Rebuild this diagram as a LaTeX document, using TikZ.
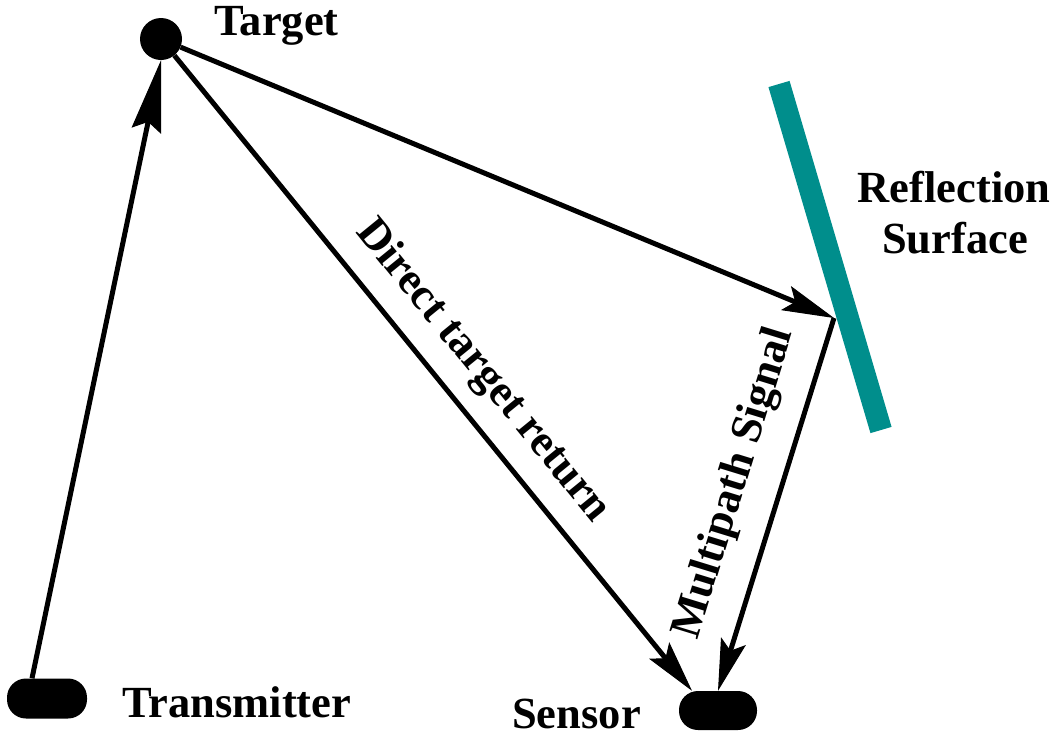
\documentclass[tikz,border=0pt]{standalone}
\usepackage{fontspec}
\setmainfont{Liberation Serif}
\usetikzlibrary{arrows.meta}
\definecolor{surf}{RGB}{0,142,140}
\begin{document}
\begin{tikzpicture}[x=1pt,y=-1pt,
  lbl/.style={font=\bfseries\fontsize{44.5}{51}\selectfont, inner sep=0pt},
  sig/.style={line width=5pt, -{Stealth[length=52pt,width=26pt,inset=10pt,line width=1pt]}},
  longsig/.style={line width=5pt, -{Stealth[length=72pt,width=30pt,inset=9pt,line width=1pt]}},
  dev/.style={fill=black, rounded corners=19pt, minimum width=80pt, minimum height=40pt, inner sep=0pt},
  ]
\useasboundingbox (0,0) rectangle (1064,740);
% reflection surface
\draw[surf, line width=22pt] (779,84) coordinate (s1) -- (881,430) coordinate (s2);
% devices
\node[circle, fill=black, minimum size=42pt, inner sep=0pt] (target) at (161,39) {};
\node[dev] (tx) at (47,698.5) {};
\node[dev, minimum width=78pt, minimum height=39pt] (sensor) at (718,710.5) {};
\coordinate (refl) at (834,318);
% signals
\draw[longsig] ([xshift=-15pt]tx.north) -- (target.south);
\draw[sig] (target) -- (refl);
\draw[sig] (target) -- ([xshift=-26pt]sensor.north);
\draw[sig] (refl) -- (sensor.north);
% labels
\node[lbl, anchor=base west] (tlabel) at (214,35) {Target};
\node[lbl, anchor=base west] (txlabel) at (122,717) {Transmitter};
\node[lbl, anchor=base west] (slabel) at (512,728) {Sensor};
\node[lbl, anchor=base] (r1) at (954,202) {Reflection};
\node[lbl, anchor=base] (r2) at (955,253) {Surface};
\node[lbl, rotate=-50.8] (dlabel) at (482.5,371.5) {Direct target return};
\node[lbl, rotate=72.9] (mlabel) at (735,483.5) {Multipath Signal};
\end{tikzpicture}
\end{document}
